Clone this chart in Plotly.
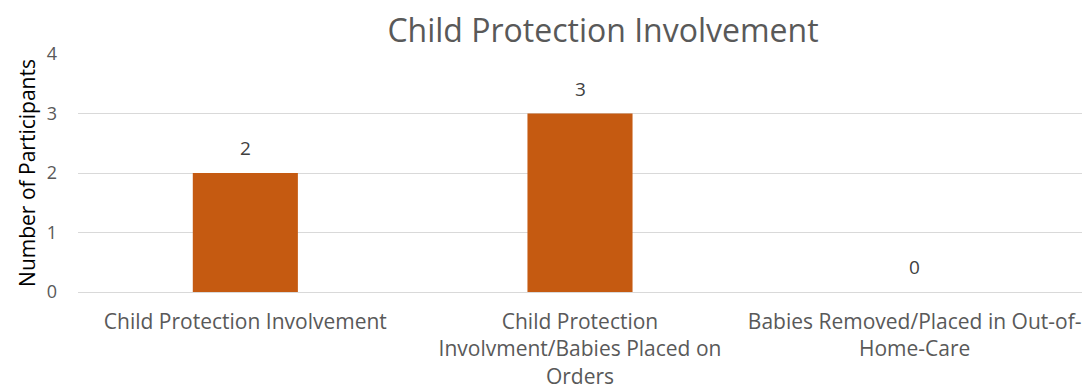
import plotly.graph_objects as go

categories = [
    "Child Protection Involvement",
    "Child Protection<br>Involvment/Babies Placed on<br>Orders",
    "Babies Removed/Placed in Out-of-<br>Home-Care",
]
values = [2, 3, 0]
y_ticks = [0, 1, 2, 3, 4]
title_text = "Child Protection Involvement"
y_title = "Number of Participants"

W, H = 1084, 390
fig = go.Figure()
fig.add_trace(go.Bar(
    x=categories, y=values,
    marker=dict(color="#C55A11", line=dict(width=0)),
    hoverinfo="skip",
))
for c, v in zip(categories, values):
    fig.add_annotation(x=c, y=v, text=str(v), showarrow=False,
                       yanchor="middle", yshift=25,
                       font=dict(family="Open Sans", size=19, color="#404040"))

fig.update_layout(
    width=W, height=H,
    margin=dict(l=78, r=2, t=54, b=98),
    paper_bgcolor="white", plot_bgcolor="white",
    bargap=0.686,
    showlegend=False,
    title=dict(text=title_text, xref="container", yref="container",
               x=603 / W, y=1 - 31 / H, xanchor="center", yanchor="middle",
               font=dict(family="Open Sans", size=32, color="#595959")),
    font=dict(family="Open Sans", color="#595959"),
)
fig.update_xaxes(showgrid=False, showline=False, ticks="", ticklabelstandoff=15,
                 automargin=False,
                 tickfont=dict(family="Open Sans", size=21, color="#595959"))
fig.update_yaxes(range=[0, 4], tickvals=y_ticks, showgrid=True, gridcolor="#d9d9d9",
                 gridwidth=1, zeroline=True, zerolinecolor="#d9d9d9", zerolinewidth=1,
                 showline=False, ticks="", ticklabelstandoff=20, automargin=False,
                 tickfont=dict(family="Open Sans", size=18, color="#595959"),
                 title=dict(text=y_title, standoff=5,
                            font=dict(family="Open Sans", size=21, color="#000000")))

fig.write_html("out.html")
